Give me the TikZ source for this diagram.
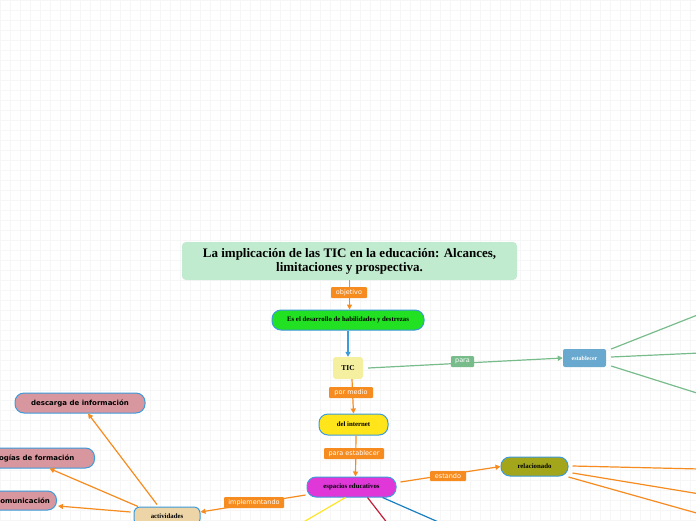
\documentclass[tikz,border=0pt]{standalone}
\usepackage{fontspec}
\setmainfont{Liberation Serif}
\newfontfamily\lblfont{DejaVu Sans}
\newfontfamily\boldsans{DejaVu Sans}
\usetikzlibrary{arrows.meta}
\definecolor{org}{HTML}{F68B1F}
\definecolor{titlefill}{HTML}{C0EBCE}
\definecolor{bordblue}{HTML}{3B9BDB}
\definecolor{grnfill}{HTML}{22E022}
\definecolor{ticfill}{HTML}{F5F0A0}
\definecolor{netfill}{HTML}{FFE51A}
\definecolor{espfill}{HTML}{E038D8}
\definecolor{relfill}{HTML}{A3A61B}
\definecolor{estfill}{HTML}{6AA9CF}
\definecolor{grnline}{HTML}{78BC8C}
\definecolor{pinkfill}{HTML}{D8979F}
\definecolor{actfill}{HTML}{EDD5A8}
\definecolor{yelline}{HTML}{FFE52A}
\definecolor{redline}{HTML}{C41E3A}
\definecolor{bluline}{HTML}{1A7FC1}
\tikzset{
  pill/.style={draw=bordblue, line width=1pt, rounded corners=9pt, inner sep=1pt, align=center},
  tiny/.style={font=\fontsize{6.8}{7.5}\selectfont\bfseries},
  pinkbox/.style={pill, fill=pinkfill, font=\boldsans\fontsize{7}{8.5}\selectfont\bfseries, minimum height=20pt},
  lbl/.style={fill=org, text=white, font=\lblfont\fontsize{6.5}{7}\selectfont, inner sep=1.5pt, rounded corners=1pt, minimum height=11pt},
  conn/.style={draw=org, line width=1.2pt},
  arr/.style={-{Triangle[length=5pt,width=5pt]}},
}
\begin{document}
\begin{tikzpicture}[x=1pt,y=-1pt]
\useasboundingbox (0,0) rectangle (696,520);
\clip (0,0) rectangle (696,520);
\fill[white] (0,0) rectangle (696,520);
\draw[gray!7, line width=0.5pt] (0,0) grid[step=10pt] (696,520);
% nodes
\node[fill=titlefill, rounded corners=4pt, minimum width=335pt, minimum height=38pt, align=center,
      font=\fontsize{13}{14}\selectfont\bfseries] (title) at (349.5,261)
  {La implicación de las TIC en la educación: Alcances,\\limitaciones y prospectiva.};
\node[pill, tiny, fill=grnfill, minimum width=152pt, minimum height=20pt] (green) at (348,320) {Es el desarrollo de habilidades y destrezas};
\node[fill=ticfill, rounded corners=3pt, minimum width=30pt, minimum height=22pt, font=\fontsize{7.5}{8}\selectfont\bfseries] (tic) at (348,368) {TIC};
\node[pill, tiny, fill=netfill, minimum width=69pt, minimum height=21pt] (net) at (353.5,424.5) {del internet};
\node[pill, tiny, fill=espfill, minimum width=89pt, minimum height=20pt] (esp) at (351.5,487) {espacios educativos};
\node[pill, tiny, fill=relfill, minimum width=67pt, minimum height=19pt] (rel) at (534.5,466.5) {relacionado};
\node[fill=estfill, rounded corners=2pt, minimum width=43pt, minimum height=18pt, text=white, font=\fontsize{6}{7}\selectfont\bfseries] (est) at (584.5,358) {establecer};
\node[pill, tiny, fill=actfill, minimum width=66pt, minimum height=18pt, rounded corners=6pt] (act) at (167,516) {actividades};
\node[pinkbox, minimum width=130pt] (desc) at (80,403) {descarga de información};
\node[pinkbox, anchor=east, minimum width=140pt] (form) at (95,458) {tecnologías de formación};
\node[pinkbox, anchor=east, minimum width=110pt, minimum height=19pt] (com) at (57,500.5) {medios de comunicación};
% free ends
\coordinate (g1) at (700,314);
\coordinate (g2) at (700,353);
\coordinate (g3) at (700,394);
\coordinate (o1) at (700,469);
\coordinate (o2) at (700,494);
\coordinate (o3) at (700,514);
\coordinate (y1) at (300,524);
\coordinate (r1) at (388,524);
\coordinate (b1) at (443,524);
% connectors
\draw[conn, arr] (title.south) -- (green.north -| title.south);
\draw[draw=bordblue, line width=1.2pt, arr] (green.south) -- (tic.north);
\draw[conn, arr] ([xshift=4pt]tic.south) -- (net.north);
\draw[conn, arr] ([xshift=2.5pt]net.south) -- ([xshift=4pt]esp.north);
\draw[conn, arr] ([xshift=4pt,yshift=5pt]esp.east) -- (rel.west);
\draw[draw=grnline, line width=1.2pt, arr] ([xshift=5pt]tic.east) -- (est.west);
\draw[draw=grnline, line width=1.2pt] ([xshift=5pt,yshift=9pt]est.east) -- (g1);
\draw[draw=grnline, line width=1.2pt] ([xshift=5pt,yshift=1pt]est.east) -- (g2);
\draw[draw=grnline, line width=1.2pt] ([xshift=5pt,yshift=-8pt]est.east) -- (g3);
\draw[conn] ([xshift=4pt,yshift=0.5pt]rel.east) -- (o1);
\draw[conn] ([xshift=4pt,yshift=-6.5pt]rel.east) -- (o2);
\draw[conn] ([xshift=0pt,yshift=-10.5pt]rel.east) -- (o3);
\draw[conn, arr] ([xshift=-1pt,yshift=-8pt]esp.west) -- ([yshift=4pt]act.east);
\draw[draw=yelline, line width=1.2pt] ([xshift=-6pt]esp.south) -- (y1);
\draw[draw=redline, line width=1.2pt] ([xshift=16pt]esp.south) -- (r1);
\draw[draw=bluline, line width=1.2pt] ([xshift=31pt]esp.south) -- (b1);
\draw[conn, arr] ([xshift=-10pt,yshift=2pt]act.north) -- ([xshift=8pt]desc.south);
\draw[conn, arr] ([xshift=-29pt]act.north) -- ([xshift=25pt]form.south);
\draw[conn, arr] ([xshift=-3pt,yshift=4pt]act.west) -- ([xshift=1pt,yshift=-5.5pt]com.east);
% labels
\node[lbl, minimum width=36pt] (l1) at (349,292.5) {objetivo};
\node[lbl, minimum width=44pt] (l2) at (351,392.5) {por medio};
\node[lbl, minimum width=60pt] (l3) at (354,453.5) {para establecer};
\node[lbl, minimum width=36pt, minimum height=10pt] (l4) at (448,476) {estando};
\node[lbl, fill=grnline, minimum width=23pt] (l5) at (462.5,361.5) {para};
\node[lbl, minimum width=60pt] (l6) at (254,502.5) {implementando};
\end{tikzpicture}
\end{document}
